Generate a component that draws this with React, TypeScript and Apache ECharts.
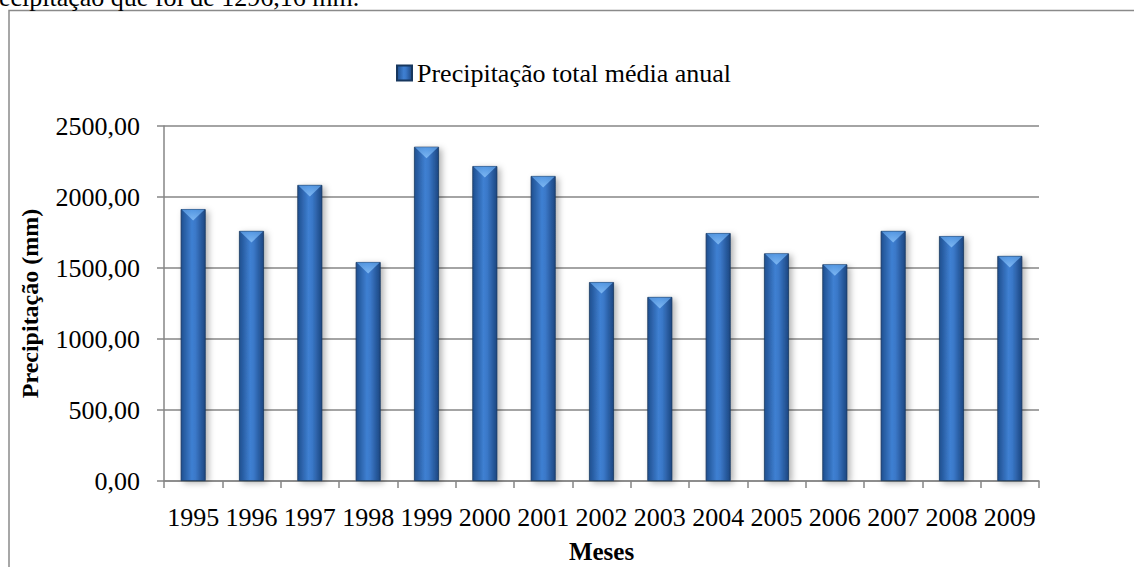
import React, { useEffect, useRef } from "react";
import * as echarts from "echarts";

const years = ["1995","1996","1997","1998","1999","2000","2001","2002","2003","2004","2005","2006","2007","2008","2009"];
const precipitation = [1915, 1761, 2085, 1542, 2354, 2218, 2148, 1401, 1296.16, 1746, 1603, 1526, 1761, 1725, 1585];
const seriesName = "Precipitação total média anual";
const yTicks = { min: 0, max: 2500, interval: 500 };
const topNote = "ecipitação que foi de 1296,16 mm.";

const FONT = "Liberation Serif";

export default function App() {
  const ref = useRef<HTMLDivElement>(null);
  useEffect(() => {
    if (!ref.current) return;
    const chart = echarts.init(ref.current, null, { renderer: "svg" });
    const barColor = new echarts.graphic.LinearGradient(0, 0, 1, 0, [
      { offset: 0, color: "#1f4f8f" },
      { offset: 0.45, color: "#3f80d2" },
      { offset: 0.6, color: "#3a78c8" },
      { offset: 1, color: "#1c4681" },
    ]);
    chart.setOption({
      animation: false,
      backgroundColor: "#ffffff",
      textStyle: { fontFamily: FONT, color: "#000" },
      graphic: [
        {
          type: "rect",
          shape: { x: 9, y: 10.5, width: 1140, height: 580 },
          style: { fill: "none", stroke: "#8a8a8a", lineWidth: 1.5 },
          z: -1,
        },
        {
          type: "text",
          x: -1,
          y: 10,
          style: {
            text: topNote,
            font: "26px 'Liberation Serif', serif",
            fill: "#000",
            verticalAlign: "bottom",
          },
        },
      ],
      legend: {
        data: [seriesName],
        top: 55,
        left: 391,
        itemWidth: 15,
        itemHeight: 15,
        icon: "rect",
        textStyle: { fontFamily: FONT, fontSize: 26, color: "#000" },
      },
      grid: {
        left: 164,
        right: 1134 - 1039,
        top: 126,
        bottom: 567 - 481,
        containLabel: false,
        outerBoundsMode: "none",
      },
      xAxis: {
        type: "category",
        data: years,
        name: "Meses",
        nameLocation: "middle",
        nameGap: 58,
        nameTextStyle: { fontFamily: FONT, fontSize: 25, fontWeight: "bold", color: "#000" },
        axisLine: { show: true, lineStyle: { color: "#868686", width: 1.5 } },
        axisTick: { show: true, length: 7, alignWithLabel: false, lineStyle: { color: "#868686", width: 1.5 } },
        axisLabel: { interval: 0, margin: 23, fontFamily: FONT, fontSize: 26, color: "#000" },
      },
      yAxis: {
        type: "value",
        min: yTicks.min,
        max: yTicks.max,
        interval: yTicks.interval,
        name: "Precipitação (mm)",
        nameLocation: "middle",
        nameRotate: 90,
        nameGap: 122,
        nameTextStyle: { fontFamily: FONT, fontSize: 24, fontWeight: "bold", color: "#000" },
        axisLine: { show: true, lineStyle: { color: "#868686", width: 1.5 } },
        axisTick: { show: true, length: 7, lineStyle: { color: "#868686", width: 1.5 } },
        splitLine: { show: true, lineStyle: { color: "#868686", width: 1.5 } },
        axisLabel: {
          margin: 24,
          fontFamily: FONT,
          fontSize: 26,
          color: "#000",
          formatter: (v: number) => v.toFixed(2).replace(".", ","),
        },
      },
      series: [
        {
          name: seriesName,
          type: "bar",
          data: precipitation,
          barWidth: 25,
          itemStyle: {
            color: barColor,
            borderColor: "#17375e",
            borderWidth: 0.8,
            shadowColor: "rgba(0,0,0,0.3)",
            shadowBlur: 6,
            shadowOffsetX: 3,
            shadowOffsetY: 2,
          },
          z: 2,
        },
        {
          name: "bevel",
          type: "scatter",
          data: precipitation,
          symbol: "triangle",
          symbolRotate: 180,
          symbolSize: [23, 11],
          symbolOffset: [0, 6],
          silent: true,
          itemStyle: {
            color: new echarts.graphic.LinearGradient(0, 0, 0, 1, [
              { offset: 0, color: "#8cc4fa" },
              { offset: 1, color: "#5a9ee8" },
            ]),
          },
          z: 3,
        },
      ],
    });
    return () => chart.dispose();
  }, []);
  return (
    <div
      ref={ref}
      style={{ position: "fixed", left: 0, top: 0, width: 1134, height: 567 }}
    />
  );
}
